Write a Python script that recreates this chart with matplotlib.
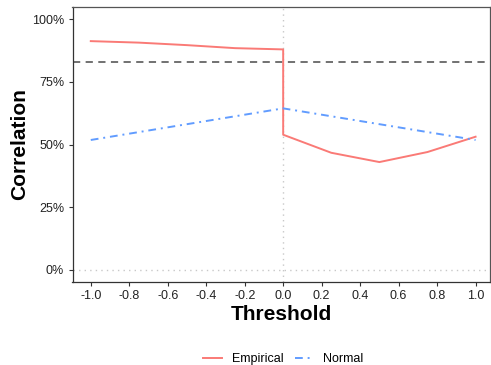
import matplotlib
matplotlib.use("Agg")
import matplotlib.pyplot as plt
from matplotlib.ticker import FuncFormatter

plt.rcParams['font.family'] = ['Liberation Sans', 'DejaVu Sans']

thr_neg = [-1.0, -0.75, -0.5, -0.25, 0.0]
emp_neg = [0.912, 0.906, 0.896, 0.884, 0.879]
thr_pos = [0.0, 0.25, 0.5, 0.75, 1.0]
emp_pos = [0.539, 0.467, 0.430, 0.470, 0.531]
thr_norm = [-1.0, -0.5, 0.0, 0.5, 1.0]
norm_vals = [0.518, 0.581, 0.644, 0.581, 0.518]
ref_level = 0.830

emp_x = thr_neg + thr_pos
emp_y = emp_neg + emp_pos

red = '#FA7A76'
blue = '#619CFF'

fig = plt.figure(figsize=(4.91, 3.65), dpi=100)
ax = fig.add_axes([72.5/491, 1-282/365, (490-72.5)/491, (282-7)/365])

ax.axvline(0, color='#c8c8c8', lw=1.0, ls=(0, (1, 3)), zorder=1)
ax.axhline(0, color='#c8c8c8', lw=1.0, ls=(0, (1, 3)), zorder=1)
ax.axhline(ref_level, color='#666666', lw=1.3, ls=(0, (4, 3)), zorder=2)

ax.plot(emp_x, emp_y, color=red, lw=1.4, label='Empirical', zorder=3)
ax.plot(thr_norm, norm_vals, color=blue, lw=1.4, ls=(0, (4, 2.5, 1, 2.5)), label='Normal', zorder=3)

ax.set_xlim(-1.095, 1.075)
ax.set_ylim(-0.048, 1.048)
ax.set_xticks([-1.0, -0.8, -0.6, -0.4, -0.2, 0.0, 0.2, 0.4, 0.6, 0.8, 1.0])
ax.xaxis.set_major_formatter(FuncFormatter(lambda v, p: f"{v:.1f}".replace("-0.0", "0.0")))
ax.set_yticks([0, 0.25, 0.5, 0.75, 1.0])
ax.yaxis.set_major_formatter(FuncFormatter(lambda v, p: f"{v*100:.0f}%"))
ax.tick_params(axis='both', labelsize=9, length=3, width=0.8, color='#333333', labelcolor='#222222', pad=3)

for s in ['left', 'bottom']:
    ax.spines[s].set_color('#333333')
    ax.spines[s].set_linewidth(0.9)
for s in ['top', 'right']:
    ax.spines[s].set_color('#555555')
    ax.spines[s].set_linewidth(0.9)

ax.set_xlabel('Threshold', fontsize=15, fontweight='bold', labelpad=2)
ax.set_ylabel('Correlation', fontsize=15, fontweight='bold', labelpad=2)

cx = (72.5 + 490) / 2 / 491
fig.legend(loc='center', bbox_to_anchor=(cx + 2/491, 1 - 359/365), ncol=2, frameon=False,
           fontsize=9, handlelength=1.5, handletextpad=0.8, columnspacing=0.9,
           borderpad=0, borderaxespad=0)

fig.savefig('out.png', dpi=100)
